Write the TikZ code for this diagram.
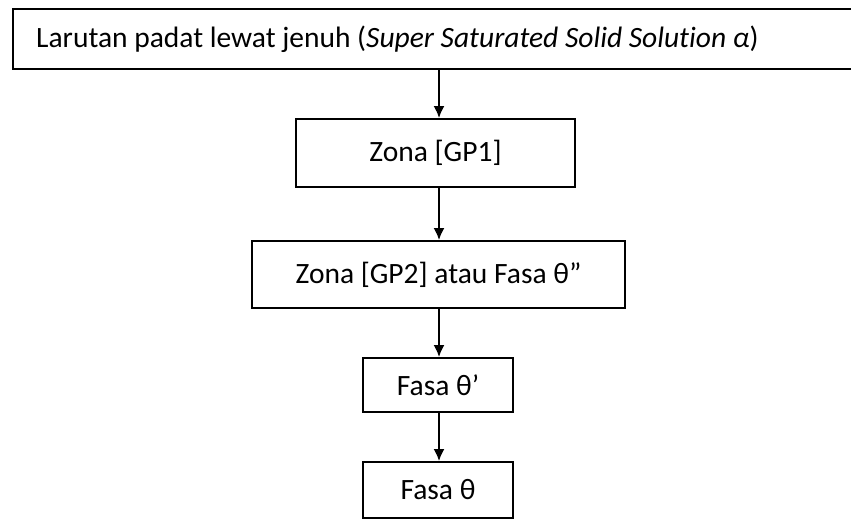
\documentclass[tikz,border=0pt]{standalone}
\usepackage{fontspec}
\setmainfont{Carlito}[Ligatures=NoCommon]
\usetikzlibrary{arrows.meta}
\begin{document}
\begin{tikzpicture}[x=1pt,y=-1pt,
  txt/.style={inner sep=0pt, font=\fontsize{29.5}{34}\selectfont},
  box/.style={draw, line width=1.8pt, txt},
  arr/.style={line width=2pt, -{Latex[length=12pt,width=11pt]}}]
\useasboundingbox (0,0) rectangle (851,520);
\clip (0,0) rectangle (851,520);
\node[box, anchor=west, minimum width=848pt, minimum height=60pt] (top) at (12,39) {};
\node[txt, anchor=west] (toplabel) at (36,39)
  {Larutan padat lewat jenuh (\textit{Super Saturated Solid Solution α})};
\node[box, minimum width=279pt, minimum height=68pt] (gp1) at (435.5,153) {Zona [GP1]};
\node[box, minimum width=373pt, minimum height=67pt] (gp2) at (438.5,274.5) {Zona [GP2] atau Fasa θ”};
\node[box, minimum width=150pt, minimum height=54pt] (f1) at (438,385) {Fasa θ’};
\node[box, minimum width=150pt, minimum height=56pt] (f2) at (438,490) {Fasa θ};
\coordinate (ax) at (439,0);
\draw[arr] (top.south -| ax) -- (gp1.north -| ax);
\draw[arr] (gp1.south -| ax) -- (gp2.north -| ax);
\draw[arr] (gp2.south -| ax) -- (f1.north -| ax);
\draw[arr] (f1.south -| ax) -- (f2.north -| ax);
\end{tikzpicture}
\end{document}
